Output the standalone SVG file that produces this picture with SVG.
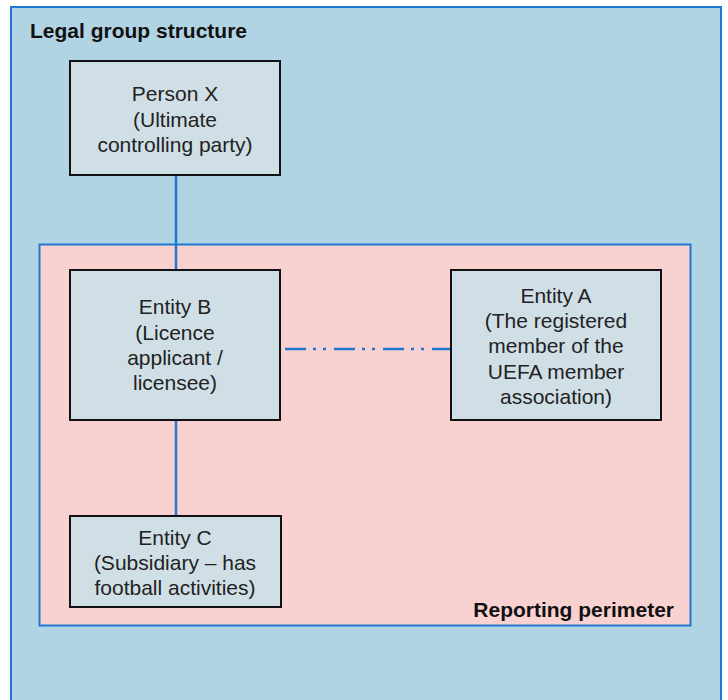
<svg xmlns="http://www.w3.org/2000/svg" width="728" height="700" viewBox="0 0 728 700">
<style>
.node rect{fill:#D0DFE6;stroke:#111;stroke-width:2}
.node text{font-family:"Liberation Sans",Arial,sans-serif;font-size:21px;fill:#222;text-anchor:middle}
.title{font-family:"Liberation Sans",Arial,sans-serif;font-size:21px;font-weight:bold;fill:#111}
.conn line{stroke:#1F78D0;stroke-width:2.5;fill:none}
</style>
<rect x="0" y="0" width="728" height="700" fill="#ffffff"/>
<g id="legal-group">
<rect x="11" y="7" width="710" height="710" fill="#B1D4E4" stroke="#1F78D0" stroke-width="2"/>
<text class="title" x="30" y="38">Legal group structure</text>
</g>
<g id="reporting-perimeter">
<rect x="39.5" y="244.5" width="651" height="381" fill="#F9D1D1" stroke="#1F78D0" stroke-width="2"/>
<text class="title" x="674" y="617" text-anchor="end">Reporting perimeter</text>
</g>
<g class="conn" id="connectors">
<line x1="176" y1="175" x2="176" y2="270"/>
<line x1="176" y1="420" x2="176" y2="516"/>
<line x1="285" y1="349" x2="451" y2="349" stroke-dasharray="21,7,3,7,3,8"/>
</g>
<g class="node" id="person-x">
<rect x="70" y="61" width="210" height="114"/>
<text x="175" y="101">Person X</text>
<text x="175" y="127">(Ultimate</text>
<text x="175" y="152">controlling party)</text>
</g>
<g class="node" id="entity-b">
<rect x="70" y="270" width="210" height="150"/>
<text x="175" y="314">Entity B</text>
<text x="175" y="340">(Licence</text>
<text x="175" y="365">applicant /</text>
<text x="175" y="390">licensee)</text>
</g>
<g class="node" id="entity-a">
<rect x="451" y="270" width="210" height="150"/>
<text x="556" y="303">Entity A</text>
<text x="556" y="328">(The registered</text>
<text x="556" y="353">member of the</text>
<text x="556" y="379">UEFA member</text>
<text x="556" y="404">association)</text>
</g>
<g class="node" id="entity-c">
<rect x="70" y="516" width="211" height="91"/>
<text x="175" y="545">Entity C</text>
<text x="175" y="570">(Subsidiary – has</text>
<text x="175" y="595">football activities)</text>
</g>
</svg>
